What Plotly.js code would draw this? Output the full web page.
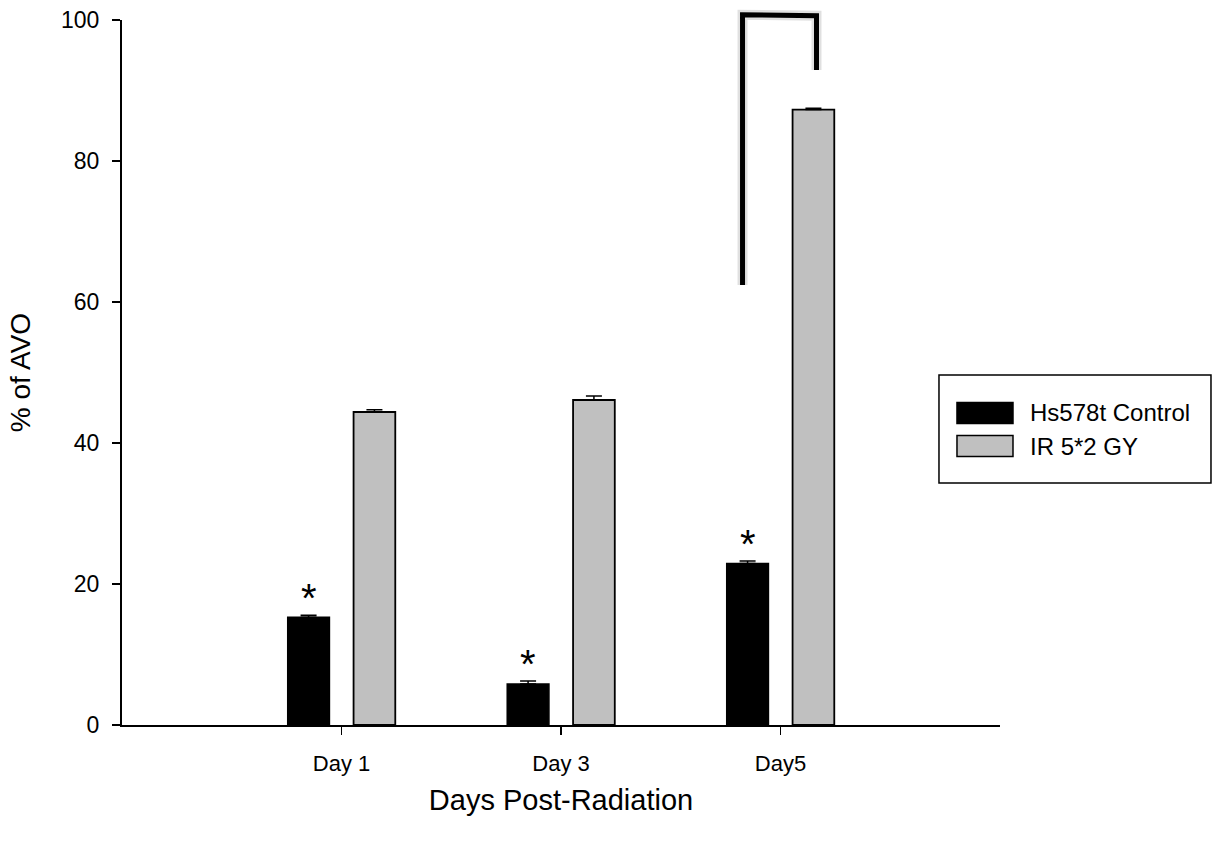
<!DOCTYPE html>
<html>
<head>
<meta charset="utf-8">
<script src="https://cdn.plot.ly/plotly-3.0.1.min.js"></script>
<style>html,body{margin:0;padding:0;background:#fff;}#chart{width:1212px;height:846px;}</style>
</head>
<body>
<div id="chart"></div>
<script>
// ---- data ----
const categories = ['Day 1', 'Day 3', 'Day5'];
const seriesNames = ['Hs578t Control', 'IR 5*2 GY'];
const controlValues = [15.3, 5.8, 22.9];
const controlErrors = [0.25, 0.45, 0.35];
const irValues = [44.4, 46.1, 87.3];
const irErrors = [0.3, 0.55, 0.2];
const significanceMarks = ['*', '*', '*'];
const yTickValues = [0, 20, 40, 60, 80, 100];
// significance bracket (data x, y in % units)
const bracketX = [1.827, 1.827, 2.164, 2.164];
const bracketY = [62.4, 100.74, 100.6, 92.9];

// ---- style ----
const FONT = 'Arial, "Liberation Sans", sans-serif';
const BAR_W = 0.19;
const OFF_CTRL = -0.245;
const OFF_IR = 0.055;
const YMAX = 100;

const xIdx = categories.map((_, i) => i);

const traces = [
  {
    type: 'bar', name: seriesNames[0], x: xIdx, y: controlValues,
    width: BAR_W, offset: OFF_CTRL,
    marker: {color: '#000000', line: {color: '#000000', width: 1.5}},
    error_y: {type: 'data', symmetric: false, array: controlErrors, arrayminus: controlErrors.map(() => 0),
              color: '#000000', thickness: 1.5, width: 8},
    showlegend: false, hoverinfo: 'y'
  },
  {
    type: 'bar', name: seriesNames[1], x: xIdx, y: irValues,
    width: BAR_W, offset: OFF_IR,
    marker: {color: '#c0c0c0', line: {color: '#000000', width: 1.8}},
    error_y: {type: 'data', symmetric: false, array: irErrors, arrayminus: irErrors.map(() => 0),
              color: '#000000', thickness: 1.5, width: 8},
    showlegend: false, hoverinfo: 'y'
  }
];

const annotations = significanceMarks.map((m, i) => ({
  x: i + OFF_CTRL + BAR_W / 2, y: controlValues[i] + controlErrors[i],
  xref: 'x', yref: 'y', text: m, showarrow: false,
  yanchor: 'bottom', yshift: -7,
  font: {family: FONT, size: 40, color: '#000'}
}));

// custom legend (large swatches)
const legendColors = ['#000000', '#c0c0c0'];
const legYC = [0.4426, 0.3957];
seriesNames.forEach((n, i) => {
  annotations.push({
    x: 1.0319, y: legYC[i], xref: 'paper', yref: 'paper', xanchor: 'left', yanchor: 'middle',
    text: n, showarrow: false, font: {family: FONT, size: 24, color: '#000'}
  });
});

let bracketPath = '';
bracketX.forEach((x, i) => {
  bracketPath += (i === 0 ? 'M' : 'L') + x + ',' + (bracketY[i] / YMAX);
});

const shapes = [
  {type: 'path', xref: 'x', yref: 'paper', path: bracketPath,
   line: {color: 'rgba(0,0,0,0.12)', width: 10}, layer: 'above'},
  {type: 'path', xref: 'x', yref: 'paper', path: bracketPath,
   line: {color: '#000000', width: 5}, layer: 'above'},
  {type: 'rect', xref: 'paper', yref: 'paper', x0: 0.9305, x1: 1.2403, y0: 0.3433, y1: 0.4965,
   line: {color: '#000', width: 1.5}, fillcolor: 'rgba(0,0,0,0)'}
];
legendColors.forEach((c, i) => {
  shapes.push({type: 'rect', xref: 'paper', yref: 'paper',
    x0: 0.951, x1: 1.0148, y0: legYC[i] - 0.0149, y1: legYC[i] + 0.0149,
    line: {color: '#000', width: 1.5}, fillcolor: c});
});

const layout = {
  width: 1212, height: 846,
  margin: {l: 122, r: 212, t: 20, b: 121},
  paper_bgcolor: '#fff', plot_bgcolor: '#fff',
  font: {family: FONT, color: '#000'},
  showlegend: false,
  xaxis: {
    range: [-1, 3], tickvals: xIdx, ticktext: categories,
    showgrid: false, zeroline: false, showline: true, linecolor: '#000', linewidth: 2,
    ticks: 'outside', ticklen: 8, tickwidth: 1.5, tickcolor: '#000',
    ticklabelstandoff: 10,
    tickfont: {family: FONT, size: 22, color: '#000'},
    title: {text: 'Days Post-Radiation', font: {family: FONT, size: 29, color: '#000'}, standoff: 14}
  },
  yaxis: {
    range: [0, YMAX], tickvals: yTickValues,
    showgrid: false, zeroline: false, showline: true, linecolor: '#000', linewidth: 2,
    ticks: 'outside', ticklen: 8, tickwidth: 1.5, tickcolor: '#000',
    ticklabelstandoff: 8,
    tickfont: {family: FONT, size: 23, color: '#000'},
    title: {text: '% of AVO', font: {family: FONT, size: 28, color: '#000'}, standoff: 22}
  },
  annotations: annotations,
  shapes: shapes
};

Plotly.newPlot('chart', traces, layout, {staticPlot: true, displayModeBar: false});
</script>
</body>
</html>
